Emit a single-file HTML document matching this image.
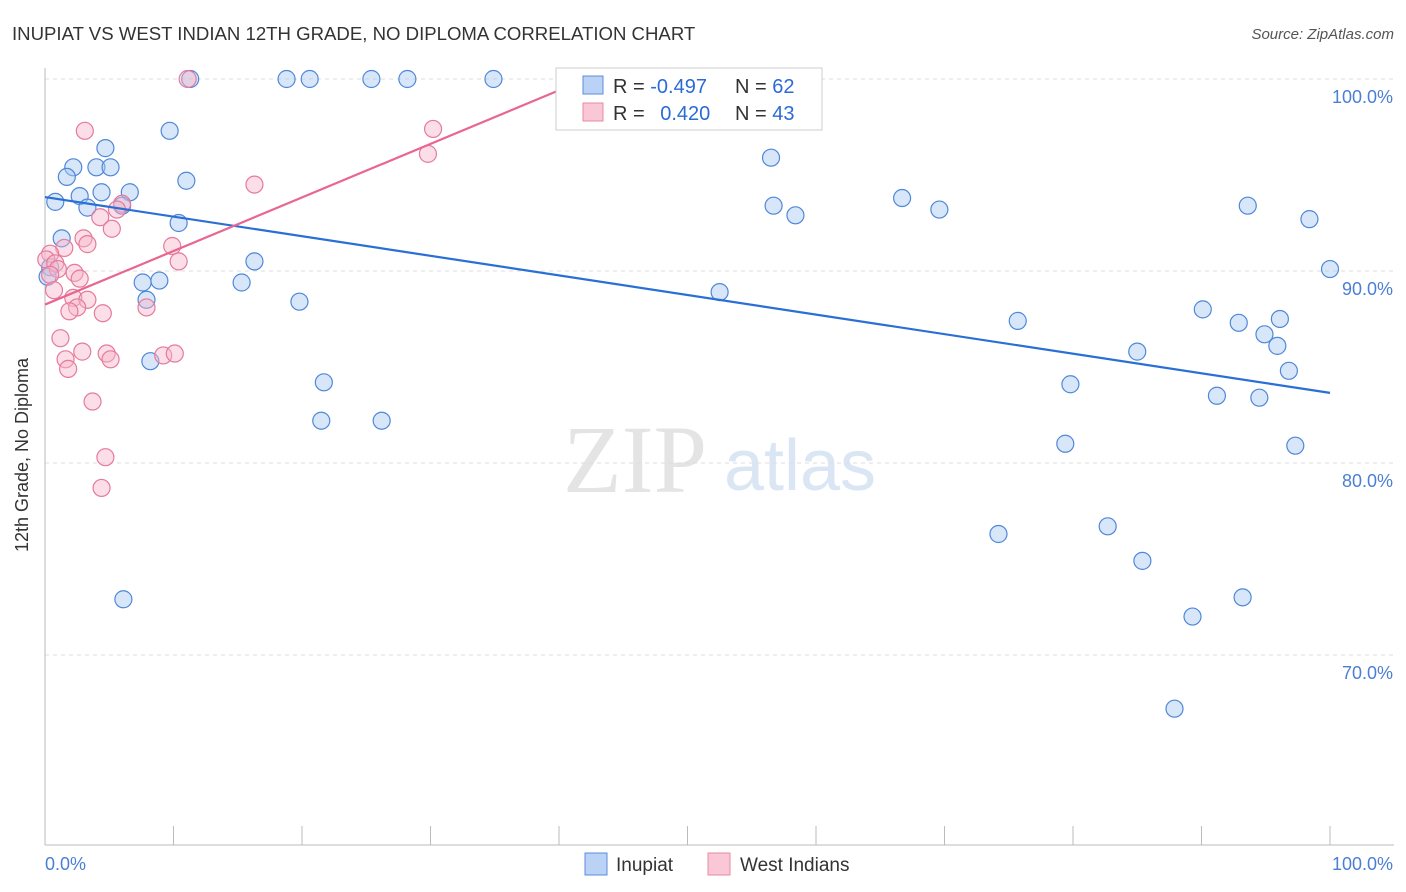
<!DOCTYPE html>
<html><head><meta charset="utf-8"><style>
body{margin:0;background:#fff;font-family:"Liberation Sans",sans-serif;}
svg{display:block}
</style></head><body>
<svg id="chart" width="1406" height="892" xmlns="http://www.w3.org/2000/svg">
<text x="12" y="40" font-size="18.6" fill="#333">INUPIAT VS WEST INDIAN 12TH GRADE, NO DIPLOMA CORRELATION CHART</text>
<text x="1394" y="39" font-size="15" fill="#555" font-style="italic" text-anchor="end">Source: ZipAtlas.com</text>
<text x="635" y="492" font-size="96" fill="#e4e4e4" font-family="Liberation Serif" text-anchor="middle">ZIP</text>
<text x="800" y="490" font-size="72" fill="#dbe6f5" text-anchor="middle">atlas</text>
<g id="grid"></g><g id="axes"></g><g id="pts"></g><g id="trend"></g>
<g>
<rect x="556" y="68" width="266" height="62" fill="#fff" stroke="#ccc"/>
<rect x="583" y="76" width="20" height="18" fill="#b9d2f5" stroke="#5b8fd8"/>
<rect x="583" y="103" width="20" height="18" fill="#f9c7d6" stroke="#e889a6"/>
<text x="613" y="93" font-size="20" fill="#333">R = <tspan fill="#2b6bd6">-0.497</tspan></text>
<text x="735" y="93" font-size="20" fill="#333">N = <tspan fill="#2b6bd6">62</tspan></text>
<text x="613" y="120" font-size="20" fill="#333">R = <tspan fill="#2b6bd6" dx="10">0.420</tspan></text>
<text x="735" y="120" font-size="20" fill="#333">N = <tspan fill="#2b6bd6">43</tspan></text>
</g>
<g>
<rect x="585" y="853" width="22" height="22" fill="#b9d2f5" stroke="#5b8fd8"/>
<text x="616" y="871" font-size="19" fill="#333">Inupiat</text>
<rect x="708" y="853" width="22" height="22" fill="#f9c7d6" stroke="#e889a6"/>
<text x="740" y="871" font-size="19" fill="#333">West Indians</text>
</g>
<text x="28" y="455" font-size="18" fill="#333" transform="rotate(-90 28 455)" text-anchor="middle">12th Grade, No Diploma</text>
</svg>
<script>
const yTicks=[100,90,80,70];
const yTickLabels=["100.0%","90.0%","80.0%","70.0%"];
const xEndLabels=["0.0%","100.0%"];
const inupiatX=[11.3,18.8,20.6,25.4,28.2,34.9,47.2,9.7,4.7,2.2,4,5.1,1.7,11,2.7,4.4,6.6,0.8,3.3,6,10.4,1.3,16.3,15.3,7.6,8.9,7.9,19.8,8.2,21.7,21.5,26.2,6.1,56.5,56.7,58.4,66.7,69.6,93.6,98.4,100,52.5,90.1,75.7,92.9,94.9,96.1,95.9,85,96.8,79.8,91.2,94.5,79.4,97.3,74.2,82.7,85.4,89.3,93.2,87.9,0.4,0.2];
const inupiatY=[100,100,100,100,100,100,100,97.3,96.4,95.4,95.4,95.4,94.9,94.7,93.9,94.1,94.1,93.6,93.3,93.4,92.5,91.7,90.5,89.4,89.4,89.5,88.5,88.4,85.3,84.2,82.2,82.2,72.9,95.9,93.4,92.9,93.8,93.2,93.4,92.7,90.1,88.9,88,87.4,87.3,86.7,87.5,86.1,85.8,84.8,84.1,83.5,83.4,81,80.9,76.3,76.7,74.9,72,73,67.2,90.2,89.7];
const westX=[11.1,3.1,16.3,30.2,29.8,6,5.6,4.3,5.2,3,3.3,1.5,9.9,10.4,0.4,0.1,0.8,1,0.4,2.3,2.7,0.7,2.2,3.3,2.5,1.9,4.5,7.9,1.2,2.9,4.8,5.1,9.2,10.1,1.6,1.8,3.7,4.7,4.4];
const westY=[100,97.3,94.5,97.4,96.1,93.5,93.2,92.8,92.2,91.7,91.4,91.2,91.3,90.5,90.9,90.6,90.4,90.1,89.8,89.9,89.6,89,88.6,88.5,88.1,87.9,87.8,88.1,86.5,85.8,85.7,85.4,85.6,85.7,85.4,84.9,83.2,80.3,78.7];
const trendBlueX=[0,100], trendBlueY=[93.85,83.65];
const trendPinkX=[0,40.5], trendPinkY=[88.25,99.55];
const L=45,R=1330,T=79,B=845,YMIN=60.1;
const sx=v=>L+(v/100)*(R-L);
const sy=v=>T+(100-v)*(B-T)/(100-YMIN);
const NS="http://www.w3.org/2000/svg";
function mk(tag,attrs,parent){const e=document.createElementNS(NS,tag);for(const k in attrs)e.setAttribute(k,attrs[k]);document.getElementById(parent).appendChild(e);return e;}
yTicks.forEach((t,i)=>{
 const g=mk('line',{x1:L,x2:1394,y1:sy(t),y2:sy(t),stroke:'#ddd','stroke-dasharray':'4,4'},'grid');
 
 
 const tx=mk('text',{x:1393,y:sy(t)+24,'font-size':18,fill:'#4a7fd4','text-anchor':'end'},'grid');
 tx.textContent=yTickLabels[i];
 
 
});
const ax=mk('line',{x1:L,x2:L,y1:68,y2:B,stroke:'#bbb'},'axes');


const bx=mk('line',{x1:L,x2:1394,y1:B,y2:B,stroke:'#bbb'},'axes');


for(let i=0;i<=10;i++){const tk=mk('line',{x1:sx(i*10),x2:sx(i*10),y1:826,y2:B,stroke:'#bbb'},'axes');
 
 }
[[0,'start',45],[100,'end',1393]].forEach((a,i)=>{const t=mk('text',{x:a[2],y:870,'font-size':18,fill:'#4a7fd4','text-anchor':a[1]},'axes');t.textContent=xEndLabels[i];
 
 });
function dots(xs,ys,fill,stroke,name){xs.forEach((x,i)=>{const c=mk('circle',{cx:sx(x),cy:sy(ys[i]),r:8.5,fill:fill,'fill-opacity':0.45,stroke:stroke,'stroke-width':1.2},'pts');
 
 });}
dots(inupiatX,inupiatY,'#a9c8f2','#4f88d8','inupiat-point');
dots(westX,westY,'#f7b6ca','#e67a9c','west-indians-point');
const l1=mk('line',{x1:sx(trendBlueX[0]),y1:sy(trendBlueY[0]),x2:sx(trendBlueX[1]),y2:sy(trendBlueY[1]),stroke:'#2a6fd6','stroke-width':2.2},'trend');


const l2=mk('line',{x1:sx(trendPinkX[0]),y1:sy(trendPinkY[0]),x2:sx(trendPinkX[1]),y2:sy(trendPinkY[1]),stroke:'#e8668f','stroke-width':2.2},'trend');


</script>
</body></html>
